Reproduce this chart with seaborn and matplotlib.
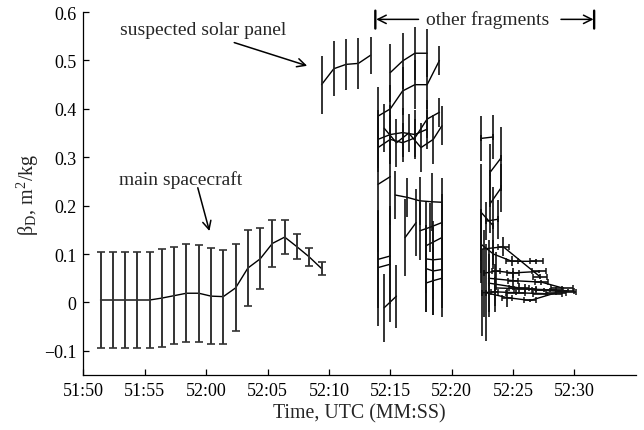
import numpy as np
import pandas as pd
import matplotlib
matplotlib.use("Agg")
import matplotlib.pyplot as plt
import seaborn as sns

# ---------------- data (seconds after 51:50 UTC) ----------------
main_t = [1.4, 2.4, 3.4, 4.4, 5.4, 6.4, 7.4, 8.4, 9.4, 10.4, 11.4, 12.4, 13.4,
          14.4, 15.4, 16.4, 17.4, 18.4, 19.4]
main_v = [0.005, 0.005, 0.005, 0.005, 0.005, 0.009, 0.014, 0.019, 0.019, 0.013,
          0.012, 0.030, 0.071, 0.090, 0.122, 0.135, 0.115, 0.094, 0.070]
main_e = [0.100, 0.100, 0.100, 0.100, 0.100, 0.101, 0.100, 0.101, 0.100, 0.099,
          0.097, 0.090, 0.079, 0.063, 0.048, 0.035, 0.026, 0.019, 0.013]

solar_t = [19.4, 20.4, 21.4, 22.4, 23.4]
solar_v = [0.450, 0.483, 0.492, 0.494, 0.511]
solar_e = [0.060, 0.057, 0.053, 0.052, 0.038]

# fragments, first group (52:14 - 52:19)
frag1_t = [[25.0, 26.0, 27.0, 28.0],
           [24.0, 25.0, 26.0, 27.0, 28.0, 29.0],
           [24.0, 25.0, 26.0, 27.0, 28.0],
           [24.0, 25.0, 26.0, 27.0, 28.0, 29.0],
           [24.5, 25.5, 26.5, 27.5, 28.5, 29.2],
           [24.0, 25.0],
           [25.4, 26.4, 27.4, 28.4, 29.2],
           [24.0, 25.0],
           [24.0, 25.0],
           [24.5, 25.5],
           [26.2, 27.1],
           [27.4, 28.2, 29.2],
           [27.9, 29.2],
           [27.9, 28.5, 29.2],
           [27.9, 28.5, 29.2],
           [27.9, 28.5, 29.2]]
frag1_v = [[0.475, 0.499, 0.515, 0.515],
           [0.385, 0.400, 0.437, 0.450, 0.450, 0.500],
           [0.337, 0.347, 0.351, 0.347, 0.358],
           [0.320, 0.337, 0.330, 0.340, 0.379, 0.393],
           [0.360, 0.330, 0.350, 0.320, 0.337, 0.365],
           [0.244, 0.260],
           [0.222, 0.217, 0.210, 0.208, 0.207],
           [0.089, 0.096],
           [0.072, 0.079],
           [-0.011, 0.013],
           [0.134, 0.165],
           [0.148, 0.155, 0.165],
           [0.117, 0.134],
           [0.090, 0.088, 0.090],
           [0.070, 0.065, 0.068],
           [0.040, 0.045, 0.050]]
frag1_e = [[0.060, 0.058, 0.055, 0.050],
           [0.060, 0.050, 0.050, 0.050, 0.050, 0.030],
           [0.060, 0.060, 0.050, 0.050, 0.040],
           [0.050, 0.050, 0.040, 0.040, 0.040, 0.030],
           [0.050, 0.050, 0.040, 0.050, 0.050, 0.040],
           [0.140, 0.100],
           [0.050, 0.040, 0.050, 0.060, 0.050],
           [0.100, 0.100],
           [0.120, 0.120],
           [0.070, 0.065],
           [0.080, 0.070],
           [0.060, 0.050, 0.060],
           [0.090, 0.070],
           [0.070, 0.080, 0.060],
           [0.090, 0.090, 0.080],
           [0.060, 0.070, 0.080]]

# fragments, second group (52:22 - 52:30), with timing uncertainty
frag2_t = [[32.4, 33.4],
           [33.1, 34.0],
           [33.1, 34.0],
           [32.4, 33.4],
           [32.8, 33.8],
           [32.4, 33.4, 34.9, 36.9],
           [32.6, 33.6, 35.0, 37.1],
           [32.4, 34.2, 37.2],
           [33.0, 35.0, 37.3, 39.0],
           [32.8, 34.5, 36.4, 38.5],
           [33.0, 35.5, 37.5, 39.3],
           [33.5, 36.0, 38.0, 39.5],
           [32.5, 33.5, 35.2, 37.8]]
frag2_v = [[0.339, 0.342],
           [0.268, 0.298],
           [0.203, 0.236],
           [0.186, 0.158],
           [0.168, 0.172],
           [0.120, 0.100, 0.085, 0.085],
           [0.060, 0.065, 0.061, 0.064],
           [0.110, 0.115, 0.053],
           [0.050, 0.045, 0.042, 0.030],
           [0.020, 0.010, 0.004, 0.020],
           [0.040, 0.030, 0.025, 0.022],
           [0.030, 0.028, 0.026, 0.024],
           [0.020, 0.022, 0.020, 0.018]]
frag2_ye = [[0.047, 0.045],
            [0.060, 0.065],
            [0.060, 0.050],
            [0.100, 0.080],
            [0.040, 0.040],
            [0.060, 0.030, 0.010, 0.005],
            [0.090, 0.040, 0.010, 0.004],
            [0.070, 0.020, 0.005],
            [0.080, 0.020, 0.005, 0.003],
            [0.100, 0.020, 0.004, 0.003],
            [0.060, 0.010, 0.004, 0.003],
            [0.050, 0.010, 0.004, 0.003],
            [0.090, 0.030, 0.005, 0.003]]
frag2_xe = [[0.0, 0.0],
            [0.0, 0.0],
            [0.0, 0.0],
            [0.0, 0.0],
            [0.0, 0.0],
            [0.0, 0.0, 0.5, 0.5],
            [0.0, 0.3, 0.5, 0.55],
            [0.0, 0.45, 0.55],
            [0.0, 0.4, 0.55, 0.9],
            [0.0, 0.4, 0.5, 0.8],
            [0.0, 0.8, 1.0, 0.8],
            [0.0, 0.9, 1.1, 0.5],
            [0.0, 0.3, 0.8, 1.2]]

xtick_pos = [0, 5, 10, 15, 20, 25, 30, 35, 40]
xtick_lab = ["51:50", "51:55", "52:00", "52:05", "52:10", "52:15", "52:20", "52:25", "52:30"]
ytick_pos = [-0.1, 0.0, 0.1, 0.2, 0.3, 0.4, 0.5, 0.6]
ytick_lab = ["\u22120.1", "0", "0.1", "0.2", "0.3", "0.4", "0.5", "0.6"]

# ---------------- figure ----------------
sns.set_theme(style="ticks")
plt.rcParams["font.family"] = ["Liberation Serif", "DejaVu Serif"]
plt.rcParams["mathtext.fontset"] = "stix"

fig = plt.figure(figsize=(6.44, 4.31), dpi=100)
ax = fig.add_axes([0.1294, 0.1276, 0.858, 0.842])

# long-format table for the centre lines
rows = []
for t, v in zip(main_t, main_v):
    rows.append(("main", t, v))
for t, v in zip(solar_t, solar_v):
    rows.append(("solar", t, v))
for i, (ts, vs) in enumerate(zip(frag1_t, frag1_v)):
    for t, v in zip(ts, vs):
        rows.append((f"f1_{i}", t, v))
for i, (ts, vs) in enumerate(zip(frag2_t, frag2_v)):
    for t, v in zip(ts, vs):
        rows.append((f"f2_{i}", t, v))
df = pd.DataFrame(rows, columns=["obj", "t", "beta"])

sns.lineplot(data=df, x="t", y="beta", units="obj", estimator=None,
             color="black", lw=1.0, sort=False, ax=ax, legend=False)

# error bars
ax.errorbar(main_t, main_v, yerr=main_e, fmt="none", ecolor="#333333",
            elinewidth=1.4, capsize=2.8, capthick=1.2)
ax.errorbar(solar_t, solar_v, yerr=solar_e, fmt="none", ecolor="#222222",
            elinewidth=1.3, capsize=0)
for ts, vs, es in zip(frag1_t, frag1_v, frag1_e):
    ax.errorbar(ts, vs, yerr=es, fmt="none", ecolor="#111111",
                elinewidth=1.2, capsize=0)
for ts, vs, ye, xe in zip(frag2_t, frag2_v, frag2_ye, frag2_xe):
    ax.errorbar(ts, vs, yerr=ye, fmt="none", ecolor="#111111",
                elinewidth=1.2, capsize=0)
    ax.errorbar(ts, vs, xerr=xe, fmt="none", ecolor="#111111",
                elinewidth=1.2, capsize=2.2, capthick=1.1)

ax.set_xlim(0, 45)
ax.set_ylim(-0.15, 0.6)
ax.set_xticks(xtick_pos)
ax.set_xticklabels(xtick_lab)
ax.set_yticks(ytick_pos)
ax.set_yticklabels(ytick_lab)
ax.tick_params(direction="in", length=4.5, width=0.9, labelsize=13,
               colors="black", pad=5)
for s in ["top", "right"]:
    ax.spines[s].set_visible(False)
for s in ["left", "bottom"]:
    ax.spines[s].set_color("black")
    ax.spines[s].set_linewidth(0.9)

ax.set_xlabel("Time, UTC (MM:SS)", fontsize=14.3, labelpad=3)
ax.set_ylabel(r"$\mathregular{\beta_D}$, m$^\mathregular{2}$/kg", fontsize=14.5, labelpad=2)

# annotations
arrow_kw = dict(arrowstyle="->", color="black", lw=1.1, shrinkA=0, shrinkB=0,
                mutation_scale=15)
ax.text(7.9, 0.254, "main spacecraft", ha="center", va="center", fontsize=14)
ax.annotate("", xy=(10.27, 0.1475), xytext=(9.32, 0.237), arrowprops=arrow_kw,
            annotation_clip=False)
ax.text(9.75, 0.565, "suspected solar panel", ha="center", va="center", fontsize=14)
ax.annotate("", xy=(18.23, 0.489), xytext=(12.29, 0.537), arrowprops=arrow_kw,
            annotation_clip=False)
ax.text(32.95, 0.585, "other fragments", ha="center", va="center", fontsize=14)
ax.annotate("", xy=(23.85, 0.585), xytext=(27.3, 0.585), arrowprops=arrow_kw,
            annotation_clip=False)
ax.annotate("", xy=(41.55, 0.585), xytext=(38.9, 0.585), arrowprops=arrow_kw,
            annotation_clip=False)
bar_kw = dict(arrowstyle="-", color="black", lw=1.7, shrinkA=0, shrinkB=0)
ax.annotate("", xy=(23.78, 0.603), xytext=(23.78, 0.566), arrowprops=bar_kw,
            annotation_clip=False)
ax.annotate("", xy=(41.6, 0.603), xytext=(41.6, 0.566), arrowprops=bar_kw,
            annotation_clip=False)

fig.savefig("out.png", dpi=100, facecolor="white")
